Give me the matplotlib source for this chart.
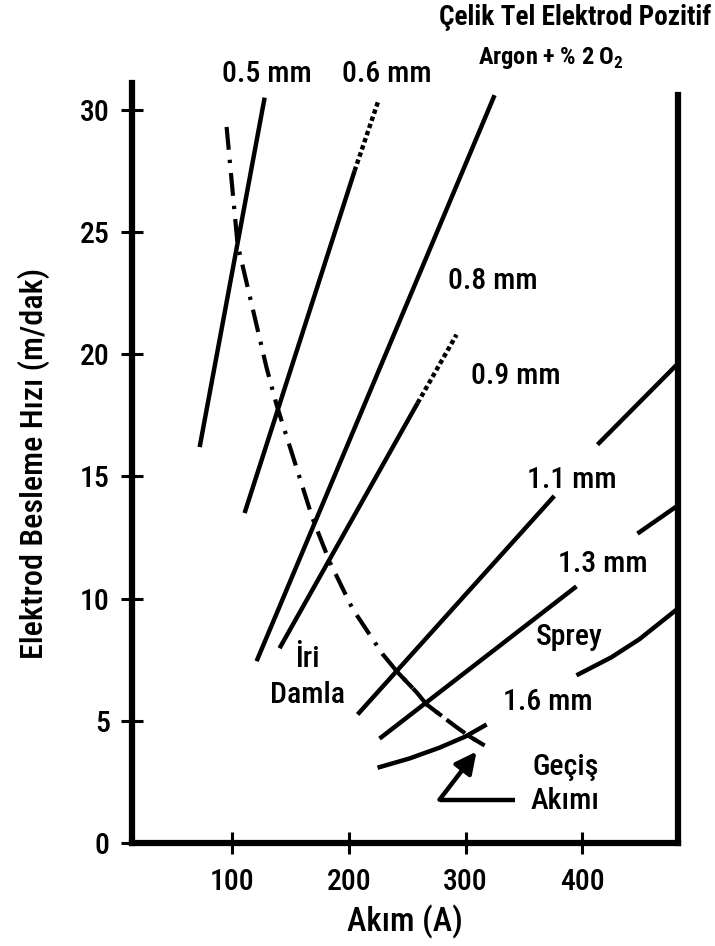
import matplotlib
matplotlib.use("Agg")
import matplotlib.pyplot as plt
import numpy as np
from matplotlib import font_manager

# narrow sans if one is installed, else Liberation Sans a bit smaller
names = set(f.name for f in font_manager.fontManager.ttflist)
FONT, K = 'Liberation Sans', 1.0
for cand, k in [('Liberation Sans Narrow', 1.2), ('Roboto Condensed', 1.1)]:
    if cand in names:
        FONT, K = cand, k
        break
plt.rcParams['font.family'] = [FONT, 'DejaVu Sans']
plt.rcParams['font.weight'] = 'medium'
plt.rcParams['axes.labelweight'] = 'medium'
plt.rcParams['mathtext.fontset'] = 'custom'
plt.rcParams['mathtext.rm'] = FONT
plt.rcParams['mathtext.bf'] = FONT + ':bold'

# wire feed speed lines (current A, speed m/dak); nan = gap for label
x05 = [72, 127.7]
y05 = [16.2, 30.5]
x06 = [110.5, 204.8]
y06 = [13.5, 27.5]
x06_dot = [204.8, 225.4]
y06_dot = [27.5, 30.4]
x08 = [120.8, 324.8]
y08 = [7.44, 30.6]
x09 = [140.5, 258.8]
y09 = [7.97, 18.0]
x09_dot = [258.8, 292.2]
y09_dot = [18.0, 20.8]
x11 = [207.4, 376, np.nan, 413, 481.6]
y11 = [5.26, 14.2, np.nan, 16.3, 19.6]
x13 = [226.2, 395, np.nan, 447.3, 481.6]
y13 = [4.27, 10.5, np.nan, 12.66, 13.8]
x16 = [224.5, 252, 277.6, 300, 318, np.nan, 395, 425, 449, 481.6]
y16 = [3.08, 3.46, 3.90, 4.36, 4.85, np.nan, 6.86, 7.6, 8.34, 9.58]

# transition current curve
tx = [95.1, 104.5, 129.4, 138.0, 168.8, 183.4, 203.1, 228.8, 241.6, 257.9, 266.5, 291.3, 303.3, 316.2]
ty = [29.3, 24.5, 19.44, 17.92, 13.28, 11.51, 9.58, 7.73, 6.99, 6.17, 5.67, 4.77, 4.36, 3.99]
gecis_akimi = [241.6, 266.5, 303.3]  # 1.1, 1.3, 1.6 mm

xticks = [100, 200, 300, 400]
yticks = [0, 5, 10, 15, 20, 25, 30]

fig = plt.figure(figsize=(7.15, 9.46), dpi=100)
ax = fig.add_axes([0.1846, 0.1089, 0.7636, 0.8034])

lw = 3.2
for xs, ys in [(x05, y05), (x06, y06), (x08, y08), (x09, y09), (x11, y11), (x13, y13), (x16, y16)]:
    ax.plot(xs, ys, color='black', lw=lw, solid_capstyle='butt')
for xs, ys in [(x06_dot, y06_dot), (x09_dot, y09_dot)]:
    ax.plot(xs, ys, color='black', lw=lw, linestyle=(0, (1.0, 0.7)))

ax.plot(tx, ty, color='black', lw=3.0, linestyle=(0, (5.5, 2.4, 0.8, 2.4)))
for g in gecis_akimi:
    seg = np.linspace(g - 2, g + 13, 10)
    ax.plot(seg, np.interp(seg, tx, ty), color='black', lw=3.0, solid_capstyle='butt')

# arrow to transition current
ax.plot([342, 277.6], [1.77, 1.77], color='black', lw=3.2, solid_capstyle='butt')
ax.annotate('', xy=(309.3, 3.74), xytext=(277.6, 1.77),
            arrowprops=dict(arrowstyle='-|>', color='black', lw=3.2,
                            mutation_scale=32, shrinkA=0, shrinkB=0))

ax.set_xlim(14, 482)
ax.set_ylim(0, 31.1)
ax.set_xticks(xticks)
ax.set_yticks(yticks)
ax.tick_params(direction='inout', length=16, width=2.2, labelsize=19.5 * K)
ax.tick_params(axis='x', pad=10)
ax.tick_params(axis='y', pad=8)
ax.spines['top'].set_visible(False)
for s in ['left', 'bottom', 'right']:
    ax.spines[s].set_linewidth(4.5)
ax.spines['right'].set_bounds(0, 30.6)

ax.set_xlabel('Akım (A)', fontsize=21.5 * K)
ax.set_ylabel('Elektrod Besleme Hızı (m/dak)', fontsize=21 * K)
ax.xaxis.set_label_coords(0.5, -0.082)
ax.yaxis.set_label_coords(-0.15, 0.5)

fs = 19.5 * K
kw = dict(fontsize=fs, ha='center', va='center', clip_on=False)
ax.text(129.4, 31.48, '0.5 mm', **kw)
ax.text(232.2, 31.48, '0.6 mm', **kw)
ax.text(323, 23.0, '0.8 mm', **kw)
ax.text(342.8, 19.1, '0.9 mm', **kw)
ax.text(390.7, 14.84, '1.1 mm', **kw)
ax.text(417.3, 11.43, '1.3 mm', **kw)
ax.text(389, 8.43, 'Sprey', **kw)
ax.text(370.2, 5.75, '1.6 mm', **kw)
ax.text(385.6, 2.42, 'Geçiş\nAkımı', linespacing=1.25, **kw)
ax.text(164.5, 6.78, 'İri\nDamla', linespacing=1.35, **kw)

fig.text(0.805, 0.981, 'Çelik Tel Elektrod Pozitif', fontsize=17.8 * K,
         fontweight='bold', ha='center', va='center')
fig.text(0.771, 0.939, r'Argon + % 2 O$_\mathbf{2}$', fontsize=16 * K,
         fontweight='bold', ha='center', va='center')

plt.savefig('out.png', dpi=100)
